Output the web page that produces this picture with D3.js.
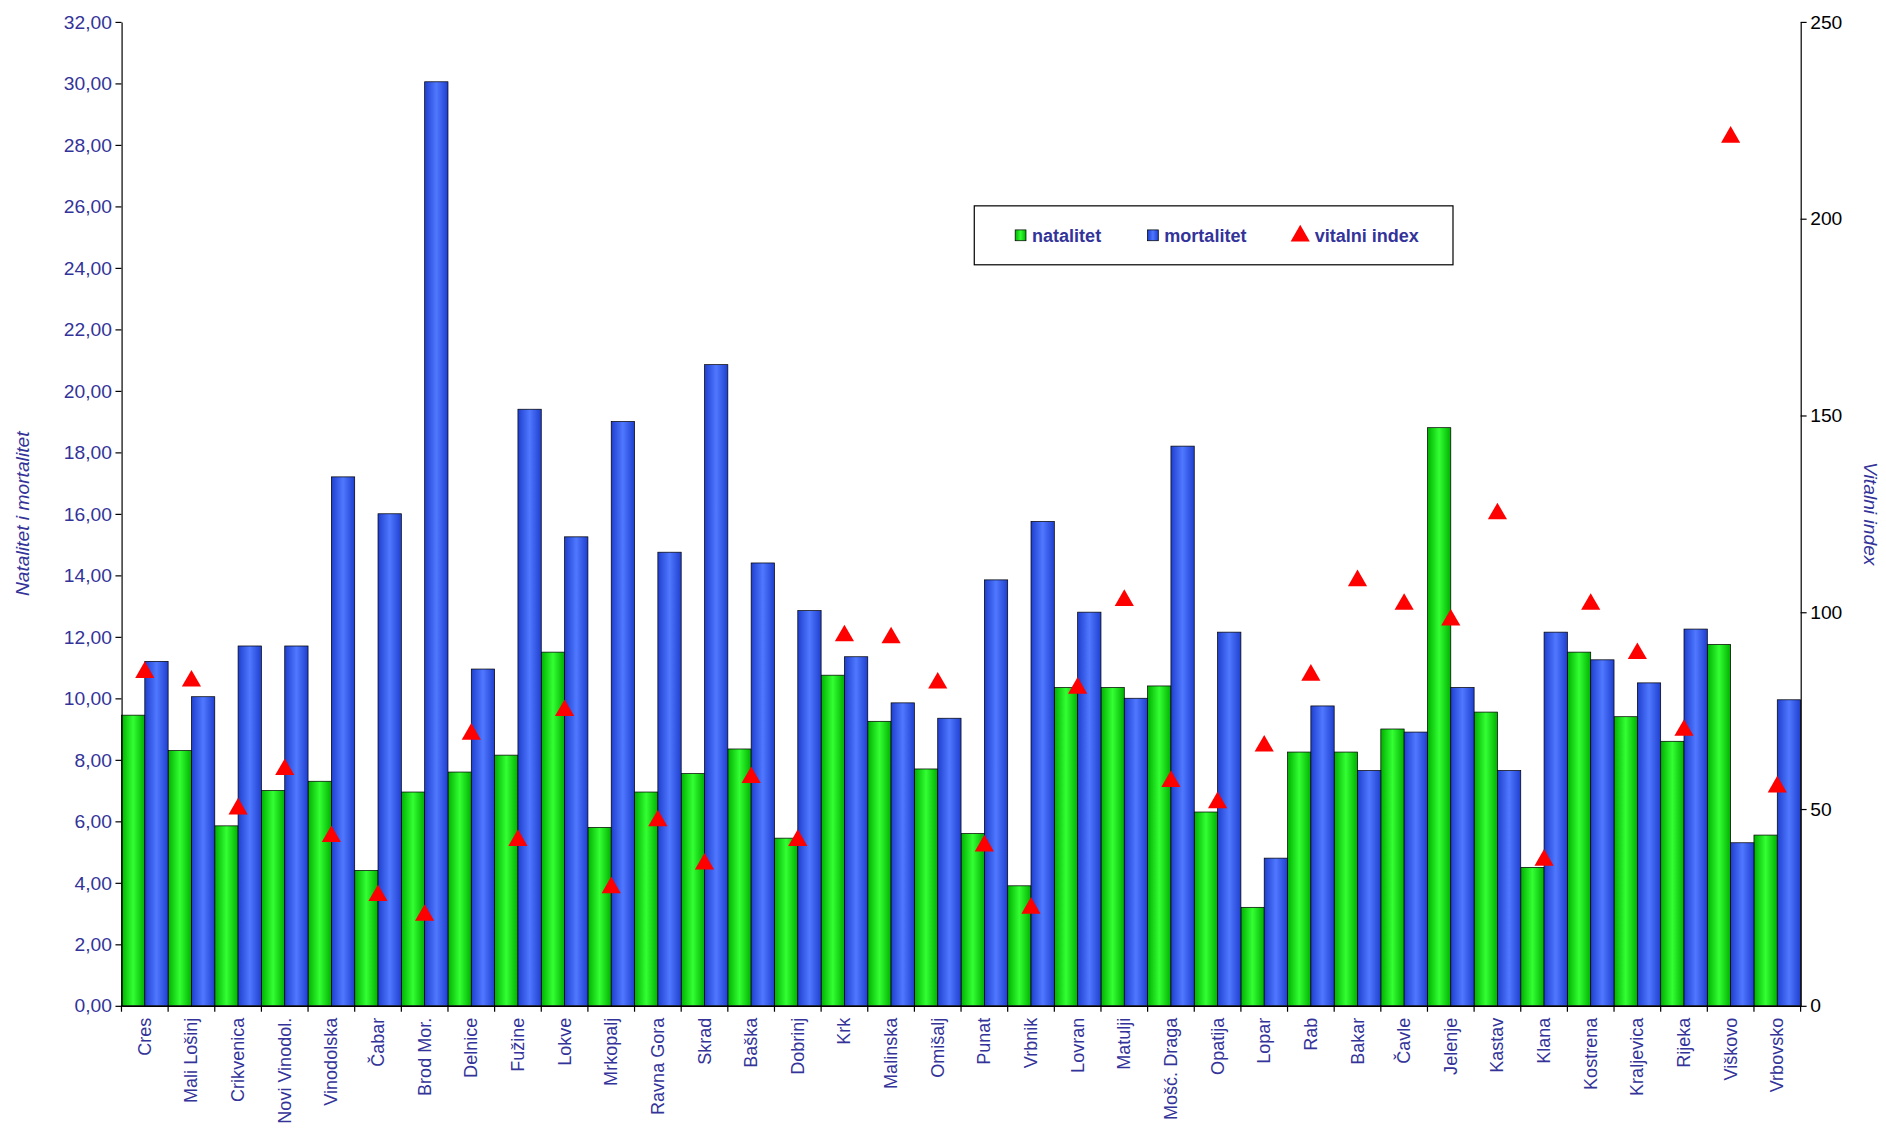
<!DOCTYPE html>
<html><head><meta charset="utf-8">
<script src="https://cdnjs.cloudflare.com/ajax/libs/d3/7.8.5/d3.min.js"></script>
<style>body{margin:0;background:#fff;font-family:"Liberation Sans",Arial,sans-serif}</style>
</head><body><div id="chart"></div>
<script>
var categories = ["Cres","Mali Lošinj","Crikvenica","Novi Vinodol.","Vinodolska","Čabar","Brod Mor.","Delnice","Fužine","Lokve","Mrkopalj","Ravna Gora","Skrad","Baška","Dobrinj","Krk","Malinska","Omišalj","Punat","Vrbnik","Lovran","Matulji","Mošć. Draga","Opatija","Lopar","Rab","Bakar","Čavle","Jelenje","Kastav","Klana","Kostrena","Kraljevica","Rijeka","Viškovo","Vrbovsko"];
var natalitet = [9.45,8.3,5.85,7.0,7.3,4.4,6.95,7.6,8.15,11.5,5.8,6.95,7.55,8.35,5.45,10.75,9.25,7.7,5.6,3.9,10.35,10.35,10.4,6.3,3.2,8.25,8.25,9.0,18.8,9.55,4.5,11.5,9.4,8.6,11.75,5.55];
var mortalitet = [11.2,10.05,11.7,11.7,17.2,16.0,30.05,10.95,19.4,15.25,19.0,14.75,20.85,14.4,12.85,11.35,9.85,9.35,13.85,15.75,12.8,10.0,18.2,12.15,4.8,9.75,7.65,8.9,10.35,7.65,12.15,11.25,10.5,12.25,5.3,9.95];
var vitalni = [84.7,82.5,50,60,43,28,23,69,42,75,30,47,36,58,42,94,93.5,82,40.6,24.8,80.7,103,57,51.6,66,84,108,102,98,125,37,102,89.5,70,220.7,55.6];
var leftTicks = d3.range(0, 33, 2);
var rightTicks = [0,50,100,150,200,250];

var navy = "#333399";
var m = {left:101, right:1497, top:18, bottom:836};
var svg = d3.select("#chart").append("svg").attr("width", 1886).attr("height", 1137)
  .attr("viewBox", "0 0 1568 945");

var defs = svg.append("defs");
function grad(id, edge, mid) {
  var g = defs.append("linearGradient").attr("id", id);
  g.append("stop").attr("offset","0%").attr("stop-color", edge);
  g.append("stop").attr("offset","50%").attr("stop-color", mid);
  g.append("stop").attr("offset","100%").attr("stop-color", edge);
}
grad("gg", "#00b000", "#33ff33");
grad("bg", "#1f3fcf", "#4f78ff");

var x = d3.scaleBand().domain(categories).range([m.left, m.right]).padding(0);
var yL = d3.scaleLinear().domain([0, 32]).range([m.bottom, m.top]);
var yR = d3.scaleLinear().domain([0, 250]).range([m.bottom, m.top]);
var bw = x.bandwidth() / 2;

svg.selectAll("rect.nat").data(categories).enter().append("rect")
  .attr("x", function (d) { return x(d); })
  .attr("y", function (d, i) { return yL(natalitet[i]); })
  .attr("width", bw)
  .attr("height", function (d, i) { return m.bottom - yL(natalitet[i]); })
  .attr("fill", "url(#gg)").attr("stroke", "#000").attr("stroke-width", 0.6);

svg.selectAll("rect.mor").data(categories).enter().append("rect")
  .attr("x", function (d) { return x(d) + bw; })
  .attr("y", function (d, i) { return yL(mortalitet[i]); })
  .attr("width", bw)
  .attr("height", function (d, i) { return m.bottom - yL(mortalitet[i]); })
  .attr("fill", "url(#bg)").attr("stroke", "#000").attr("stroke-width", 0.6);

var tri = d3.symbol().type(d3.symbolTriangle).size(110);
svg.selectAll("path.vit").data(categories).enter().append("path")
  .attr("d", tri)
  .attr("transform", function (d, i) { return "translate(" + (x(d) + bw) + "," + yR(vitalni[i]) + ")"; })
  .attr("fill", "#ff0000");

// Axes
var fmt = function (d) { return d3.format(".2f")(d).replace(".", ","); };
var gl = svg.append("g").attr("transform", "translate(" + m.left + ",0)")
  .call(d3.axisLeft(yL).tickValues(leftTicks).tickFormat(fmt).tickSize(5).tickSizeOuter(0));
var gr = svg.append("g").attr("transform", "translate(" + m.right + ",0)")
  .call(d3.axisRight(yR).tickValues(rightTicks).tickSize(5).tickSizeOuter(0));
var gx = svg.append("g").attr("transform", "translate(0," + m.bottom + ")")
  .call(d3.axisBottom(x).tickSize(0).tickFormat(""));
gx.selectAll(".tick line").remove();
[gl, gr].forEach(function (g) {
  g.selectAll("text").attr("fill", navy).style("font-size", "16px").style("font-family", "Liberation Sans, Arial");
});
gr.selectAll("text").attr("fill", "#000");

// category tick marks between bands
svg.selectAll("line.ct").data(categories.concat([null])).enter().append("line")
  .attr("x1", function (d, i) { return m.left + i * x.step(); })
  .attr("x2", function (d, i) { return m.left + i * x.step(); })
  .attr("y1", m.bottom).attr("y2", m.bottom + 5).attr("stroke", "#000");

svg.selectAll("text.cat").data(categories).enter().append("text")
  .attr("transform", function (d) { return "translate(" + (x(d) + x.bandwidth() / 2 + 5) + "," + (m.bottom + 10) + ") rotate(-90)"; })
  .attr("text-anchor", "end").attr("fill", navy).style("font-size", "15px")
  .text(function (d) { return d; });

svg.append("text").attr("transform", "translate(24," + (m.top + m.bottom) / 2 + ") rotate(-90)")
  .attr("text-anchor", "middle").attr("fill", navy).style("font-size", "16px").style("font-style", "italic")
  .text("Natalitet i mortalitet");
svg.append("text").attr("transform", "translate(1550," + (m.top + m.bottom) / 2 + ") rotate(90)")
  .attr("text-anchor", "middle").attr("fill", navy).style("font-size", "16px").style("font-style", "italic")
  .text("Vitalni index");

// Legend
var lg = svg.append("g").attr("transform", "translate(810,171)");
lg.append("rect").attr("width", 398).attr("height", 49).attr("fill", "#fff").attr("stroke", "#000");
var items = [{t:"natalitet", f:"url(#gg)", x:34}, {t:"mortalitet", f:"url(#bg)", x:144}];
items.forEach(function (it) {
  lg.append("rect").attr("x", it.x).attr("y", 20).attr("width", 9).attr("height", 9).attr("fill", it.f).attr("stroke", "#000").attr("stroke-width", 0.6);
  lg.append("text").attr("x", it.x + 14).attr("y", 30).attr("fill", navy).style("font-size", "15px").style("font-weight", "bold").text(it.t);
});
lg.append("path").attr("d", tri).attr("transform", "translate(271,25)").attr("fill", "#ff0000");
lg.append("text").attr("x", 283).attr("y", 30).attr("fill", navy).style("font-size", "15px").style("font-weight", "bold").text("vitalni index");
</script></body></html>
